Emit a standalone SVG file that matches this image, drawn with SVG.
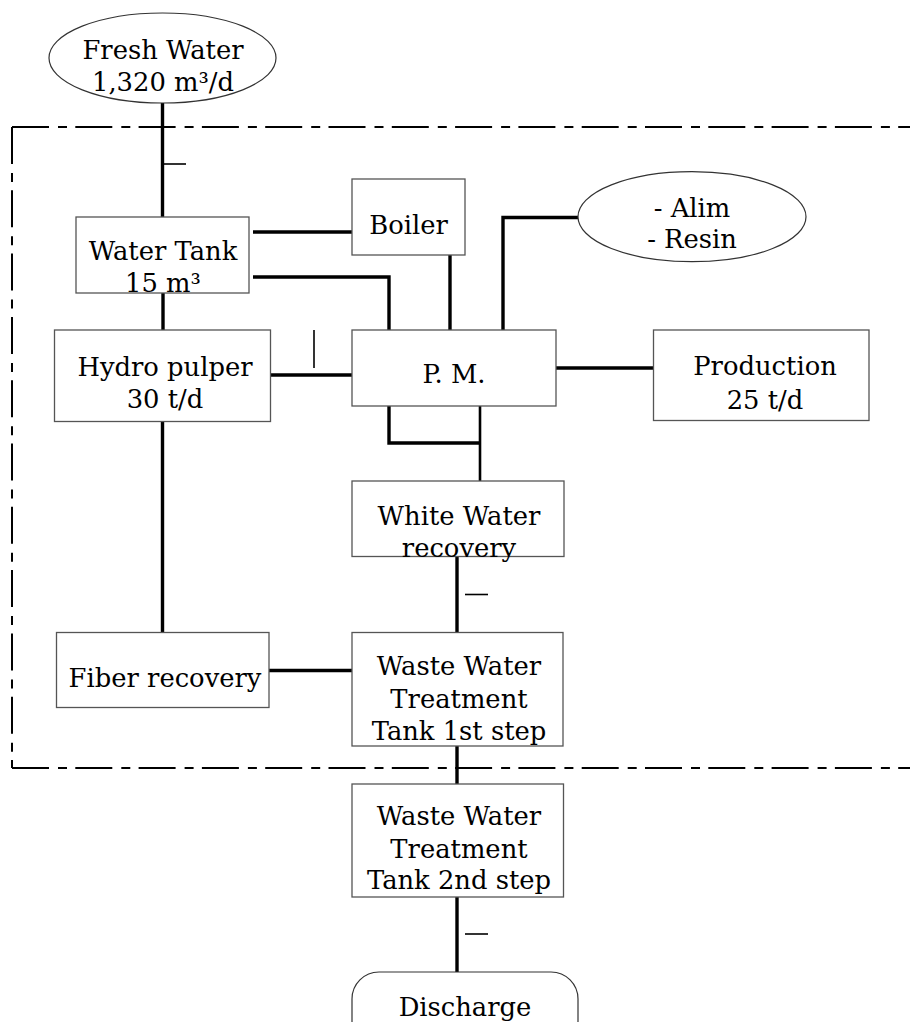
<svg xmlns="http://www.w3.org/2000/svg" width="910" height="1022" viewBox="0 0 910 1022">
<style>
.box{fill:#fff;stroke:#555;stroke-width:1.3}
.ell{fill:#fff;stroke:#333;stroke-width:1.2}
.t{font-family:"DejaVu Serif","Liberation Serif",serif;font-size:25.8px;fill:#000;text-anchor:middle}
.c{stroke:#000;stroke-width:3.4;fill:none}
.c2{stroke:#000;stroke-width:2.6;fill:none}
.tick{stroke:#000;stroke-width:1.6;fill:none}
.bound{stroke:#000;stroke-width:2;fill:none;stroke-dasharray:37 9 9 8.3}
</style>
<rect width="910" height="1022" fill="#fff"/>
<g id="boundary">
<line class="bound" x1="12" y1="127" x2="910" y2="127"/>
<line class="bound" x1="12" y1="127" x2="12" y2="768"/>
<line class="bound" x1="12" y1="768" x2="910" y2="768"/>
</g>
<g id="connectors">
<line class="c" x1="162.5" y1="103" x2="162.5" y2="217"/>
<line class="tick" x1="162.5" y1="164" x2="186" y2="164"/>
<line class="c" x1="163" y1="293" x2="163" y2="330"/>
<line class="c" x1="253" y1="232" x2="352" y2="232"/>
<polyline class="c" points="253,277 389,277 389,330"/>
<line class="c" x1="450" y1="255" x2="450" y2="330"/>
<polyline class="c" points="503,330 503,217.5 578,217.5"/>
<line class="c" x1="556" y1="368" x2="654" y2="368"/>
<line class="c" x1="270.5" y1="375" x2="352" y2="375"/>
<line class="tick" x1="314" y1="330" x2="314" y2="368"/>
<polyline class="c" points="389,406 389,443 480,443"/>
<line class="c2" x1="480" y1="406" x2="480" y2="481"/>
<line class="c" x1="457" y1="557" x2="457" y2="633"/>
<line class="tick" x1="465" y1="594.5" x2="488" y2="594.5"/>
<line class="c" x1="162.5" y1="421.5" x2="162.5" y2="633"/>
<line class="c" x1="269" y1="670.5" x2="352" y2="670.5"/>
<line class="c" x1="457" y1="746" x2="457" y2="784"/>
<line class="c" x1="457" y1="897" x2="457" y2="972"/>
<line class="tick" x1="465" y1="934" x2="488" y2="934"/>
</g>
<g id="fresh-water">
<ellipse class="ell" cx="162.5" cy="58" rx="113.5" ry="45"/>
<text class="t" x="163" y="59">Fresh Water</text>
<text class="t" x="163" y="91">1,320 m³/d</text>
</g>
<g id="water-tank">
<rect class="box" x="76" y="217" width="173" height="76"/>
<text class="t" x="163" y="260">Water Tank</text>
<text class="t" x="163" y="291.5">15 m³</text>
</g>
<g id="boiler">
<rect class="box" x="352" y="179" width="113" height="76"/>
<text class="t" x="408.5" y="234">Boiler</text>
</g>
<g id="alim-resin">
<ellipse class="ell" cx="692" cy="216.7" rx="114" ry="45"/>
<text class="t" x="692" y="216.5">- Alim</text>
<text class="t" x="692" y="248">- Resin</text>
</g>
<g id="hydro-pulper">
<rect class="box" x="54.5" y="330" width="216" height="91.5"/>
<text class="t" x="165" y="375.5">Hydro pulper</text>
<text class="t" x="165" y="408">30 t/d</text>
</g>
<g id="pm">
<rect class="box" x="352" y="330" width="204" height="76"/>
<text class="t" x="454" y="383">P. M.</text>
</g>
<g id="production">
<rect class="box" x="653.5" y="330" width="215.5" height="90.5"/>
<text class="t" x="765" y="375">Production</text>
<text class="t" x="765" y="409">25 t/d</text>
</g>
<g id="white-water">
<rect class="box" x="352" y="481" width="212" height="75.5"/>
<text class="t" x="459" y="525">White Water</text>
<text class="t" x="459" y="556.5">recovery</text>
</g>
<g id="fiber-recovery">
<rect class="box" x="56.5" y="632.5" width="212.5" height="75"/>
<text class="t" x="165" y="686.5">Fiber recovery</text>
</g>
<g id="wwt-1">
<rect class="box" x="352" y="632.5" width="211" height="113.5"/>
<text class="t" x="459" y="675">Waste Water</text>
<text class="t" x="459" y="708">Treatment</text>
<text class="t" x="459" y="740">Tank 1st step</text>
</g>
<g id="wwt-2">
<rect class="box" x="352" y="784" width="211.5" height="113"/>
<text class="t" x="459" y="825">Waste Water</text>
<text class="t" x="459" y="858">Treatment</text>
<text class="t" x="459" y="889">Tank 2nd step</text>
</g>
<g id="discharge">
<rect class="ell" x="352" y="972" width="226" height="76" rx="27" ry="27"/>
<text class="t" x="465" y="1016">Discharge</text>
</g>
</svg>
